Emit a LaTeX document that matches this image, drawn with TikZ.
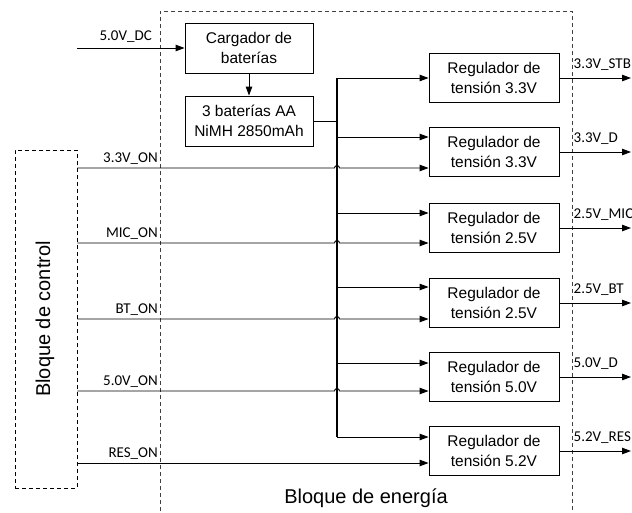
\documentclass[tikz,border=0pt]{standalone}
\usepackage{fontspec}
\setmainfont{Liberation Sans}
\newfontfamily\sigfont{Carlito}
\usetikzlibrary{arrows.meta,positioning,calc}

\tikzset{
  blk/.style={draw,line width=0.9pt,minimum width=128pt,minimum height=50pt,align=center,
    inner sep=2pt,font=\fontsize{15.5}{20}\selectfont},
  reg/.style={blk,minimum width=130pt,minimum height=49pt},
  sig/.style={font=\sigfont\fontsize{15}{17}\selectfont,inner sep=0pt},
  ttl/.style={font=\fontsize{20}{24}\selectfont,inner sep=0pt},
  ln/.style={line width=0.9pt},
  arr/.style={ln,-{Triangle[length=9pt,width=6.5pt]}},
  frame/.style={dash pattern=on 4pt off 3pt,line width=0.9pt}
}

\begin{document}
\begin{tikzpicture}[x=1pt,y=-1pt]
\clip (0,0) rectangle (632,512);

% bloques con linea discontinua
\draw[frame,black!75] (160,525) |- (572,11) -- (572,525);
\node[frame,draw,minimum width=62pt,minimum height=338pt] (ctrl) at (46,319) {};
\node[ttl,rotate=90] (ctrltxt) at (45,319) {Bloque de control};
\node[ttl,anchor=base] (energia) at (366,503) {Bloque de energía};

\coordinate (lwall) at (160,0);
\coordinate (wall) at (572,0);
\coordinate (edge) at (631,0);
\coordinate (bus) at (337,0);

% cargador y baterias
\node[blk] (cargador) at (249,48) {Cargador de\\baterías};
\node[blk] (bat) at (249,121) {3 baterías AA\\NiMH 2850mAh};
\coordinate (dcin) at (77,48);
\draw[arr] (dcin) -- (cargador.west);
\node[sig,anchor=base east,xshift=-8pt,yshift=8pt] (dc) at (lwall |- dcin) {5.0V\_DC};
\draw[arr] (cargador) -- (bat);

% reguladores
\node[reg] (r1) at (494,78) {Regulador de\\tensión 3.3V};
\node[reg] (r2) at (494,152) {Regulador de\\tensión 3.3V};
\node[reg] (r3) at (494,228) {Regulador de\\tensión 2.5V};
\node[reg] (r4) at (494,303) {Regulador de\\tensión 2.5V};
\node[reg] (r5) at (494,377) {Regulador de\\tensión 5.0V};
\node[reg] (r6) at (494,451) {Regulador de\\tensión 5.2V};

% bus de alimentacion
\coordinate (b2) at ($(r2.west)+(0,-15)$);
\coordinate (b3) at ($(r3.west)+(0,-15)$);
\coordinate (b4) at ($(r4.west)+(0,-16)$);
\coordinate (b5) at ($(r5.west)+(0,-14)$);
\coordinate (b6) at ($(r6.west)+(0,-14)$);
\draw[ln] (bat.east) -- (bat.east -| bus);
\draw[line width=1.2pt] (bus |- r1.west) -- (bus |- b6);
\draw[arr] (bus |- r1.west) -- (r1.west);
\draw[arr] (bus |- b2) -- (b2);
\draw[arr] (bus |- b3) -- (b3);
\draw[arr] (bus |- b4) -- (b4);
\draw[arr] (bus |- b5) -- (b5);
\draw[arr] (bus |- b6) -- (b6);

% senales de control
\coordinate (c2) at ($(r2.west)+(0,16)$);
\coordinate (c3) at ($(r3.west)+(0,15)$);
\coordinate (c4) at ($(r4.west)+(0,16)$);
\coordinate (c5) at ($(r5.west)+(0,14)$);
\coordinate (c6) at ($(r6.west)+(0,12)$);
\draw[arr] (ctrl.east |- c2) -- ($(bus |- c2)+(-2.5,0)$) arc[start angle=180,end angle=360,radius=2.5] -- (c2);
\draw[arr] (ctrl.east |- c3) -- ($(bus |- c3)+(-2.5,0)$) arc[start angle=180,end angle=360,radius=2.5] -- (c3);
\draw[arr] (ctrl.east |- c4) -- ($(bus |- c4)+(-2.5,0)$) arc[start angle=180,end angle=360,radius=2.5] -- (c4);
\draw[arr] (ctrl.east |- c5) -- ($(bus |- c5)+(-2.5,0)$) arc[start angle=180,end angle=360,radius=2.5] -- (c5);
\draw[arr] (ctrl.east |- c6) -- (c6);
\node[sig,anchor=base east,xshift=-2pt,yshift=6pt] (on2) at (lwall |- c2) {3.3V\_ON};
\node[sig,anchor=base east,xshift=-2pt,yshift=6pt] (on3) at (lwall |- c3) {MIC\_ON};
\node[sig,anchor=base east,xshift=-2pt,yshift=6pt] (on4) at (lwall |- c4) {BT\_ON};
\node[sig,anchor=base east,xshift=-2pt,yshift=6pt] (on5) at (lwall |- c5) {5.0V\_ON};
\node[sig,anchor=base east,xshift=-2pt,yshift=6pt] (on6) at (lwall |- c6) {RES\_ON};

% salidas
\draw[arr] (r1.east) -- (r1.east -| edge);
\draw[arr] (r2.east) -- (r2.east -| edge);
\draw[arr] (r3.east) -- (r3.east -| edge);
\draw[arr] (r4.east) -- (r4.east -| edge);
\draw[arr] (r5.east) -- (r5.east -| edge);
\draw[arr] (r6.east) -- (r6.east -| edge);
\node[sig,anchor=base west,xshift=1.5pt,yshift=10pt] (o1) at (wall |- r1.east) {3.3V\_STB};
\node[sig,anchor=base west,xshift=1.5pt,yshift=10pt] (o2) at (wall |- r2.east) {3.3V\_D};
\node[sig,anchor=base west,xshift=1.5pt,yshift=10pt] (o3) at (wall |- r3.east) {2.5V\_MIC};
\node[sig,anchor=base west,xshift=1.5pt,yshift=10pt] (o4) at (wall |- r4.east) {2.5V\_BT};
\node[sig,anchor=base west,xshift=1.5pt,yshift=10pt] (o5) at (wall |- r5.east) {5.0V\_D};
\node[sig,anchor=base west,xshift=1.5pt,yshift=10pt] (o6) at (wall |- r6.east) {5.2V\_RES};
\end{tikzpicture}
\end{document}
